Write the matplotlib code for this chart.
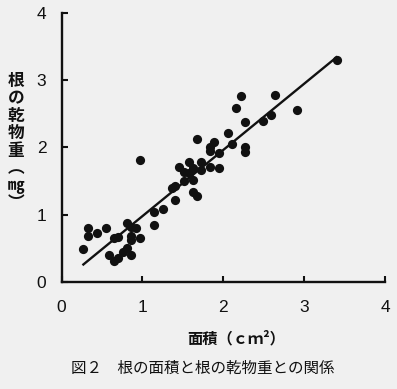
import matplotlib
matplotlib.use("Agg")
import matplotlib.pyplot as plt
import numpy as np

# measured points (root area cm2, root dry weight mg)
area = [0.27, 0.33, 0.33, 0.44, 0.55, 0.59, 0.65, 0.70, 0.65, 0.70,
        0.76, 0.81, 0.86, 0.81, 0.86, 0.86, 0.86, 0.92, 0.97, 0.97,
        1.14, 1.14, 1.25, 1.36, 1.40, 1.40, 1.45, 1.51, 1.51, 1.57,
        1.57, 1.62, 1.62, 1.62, 1.67, 1.67, 1.73, 1.73, 1.84, 1.84,
        1.84, 1.89, 1.95, 1.95, 2.06, 2.11, 2.16, 2.22, 2.27, 2.27,
        2.27, 2.49, 2.59, 2.64, 2.91, 3.40]
dry_wt = [0.49, 0.81, 0.69, 0.73, 0.80, 0.40, 0.31, 0.36, 0.65, 0.67,
          0.45, 0.50, 0.40, 0.88, 0.82, 0.68, 0.63, 0.81, 0.66, 1.82,
          1.04, 0.84, 1.08, 1.40, 1.43, 1.22, 1.71, 1.64, 1.50, 1.79,
          1.62, 1.69, 1.52, 1.34, 1.28, 2.12, 1.79, 1.66, 2.00, 1.95,
          1.71, 2.08, 1.91, 1.69, 2.22, 2.05, 2.58, 2.77, 2.38, 2.00,
          1.93, 2.39, 2.48, 2.78, 2.56, 3.30]

# regression line
slope = 0.984
intercept = -0.005
line_x = np.array([0.27, 3.40])

xticks = [0, 1, 2, 3, 4]
yticks = [0, 1, 2, 3, 4]
ylabel_chars = ["根", "の", "乾", "物", "重", "︵", "㎎", "︶"]
xlabel = "面積（ｃｍ²）"
caption = "図２　根の面積と根の乾物重との関係"

bg = "#f0f0f0"
ink = "#111111"
jp = ["Noto Sans CJK JP", "DejaVu Sans"]

fig = plt.figure(figsize=(3.97, 3.89), dpi=100, facecolor=bg)
ax = fig.add_axes([0.155, 0.275, 0.815, 0.692], facecolor=bg)

ax.scatter(area, dry_wt, s=44, color=ink, zorder=3, linewidths=0)
ax.plot(line_x, slope * line_x + intercept, color=ink, lw=1.7)

ax.set_xlim(0, 4)
ax.set_ylim(0, 4)
ax.set_xticks(xticks)
ax.set_yticks(yticks)
ax.set_xticklabels([str(t) for t in xticks], fontfamily="Liberation Sans", fontsize=12.5)
ax.set_yticklabels([str(t) for t in yticks], fontfamily="Liberation Sans", fontsize=12.5)
ax.tick_params(direction="in", length=4.5, width=1.5, colors=ink)
ax.tick_params(axis="x", pad=13)
ax.tick_params(axis="y", pad=11)
for s in ["top", "right"]:
    ax.spines[s].set_visible(False)
for s in ["left", "bottom"]:
    ax.spines[s].set_linewidth(1.7)
    ax.spines[s].set_color(ink)

# stacked vertical y label
y0 = 1 - 81 / 389
step = 17.4 / 389
for i, ch in enumerate(ylabel_chars):
    fig.text(16 / 397, y0 - i * step, ch, family=jp, fontsize=12, fontweight="bold",
             ha="center", va="center", color=ink)

fig.text(236 / 397, 1 - 338 / 389, xlabel, family=jp, fontsize=11, fontweight="bold",
         ha="center", va="center", color=ink)
fig.text(203 / 397, 1 - 368 / 389, caption, family=jp, fontsize=11.2,
         ha="center", va="center", color=ink)

fig.savefig("out.png", dpi=100, facecolor=bg)
